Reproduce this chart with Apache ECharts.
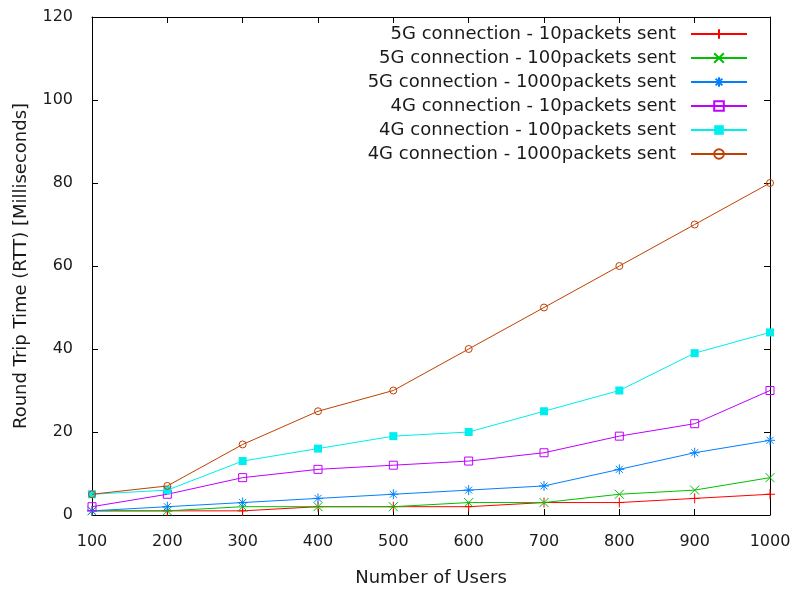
<!DOCTYPE html>
<html>
<head>
<meta charset="utf-8">
<script src="https://cdn.jsdelivr.net/npm/echarts@6/dist/echarts.min.js"></script>
<style>html,body{margin:0;padding:0;background:#fff}#c{width:793px;height:590px}</style>
</head>
<body>
<div id="c"></div>
<script>
const users = [100, 200, 300, 400, 500, 600, 700, 800, 900, 1000];
const names = [
  '5G connection - 10packets sent',
  '5G connection - 100packets sent',
  '5G connection - 1000packets sent',
  '4G connection - 10packets sent',
  '4G connection - 100packets sent',
  '4G connection - 1000packets sent'
];
const g5_10   = [1, 1, 1, 2, 2, 2, 3, 3, 4, 5];
const g5_100  = [1, 1, 2, 2, 2, 3, 3, 5, 6, 9];
const g5_1000 = [1, 2, 3, 4, 5, 6, 7, 11, 15, 18];
const g4_10   = [2, 5, 9, 11, 12, 13, 15, 19, 22, 30];
const g4_100  = [5, 6, 13, 16, 19, 20, 25, 30, 39, 44];
const g4_1000 = [5, 7, 17, 25, 30, 40, 50, 60, 70, 80];
const xTicks = [100, 200, 300, 400, 500, 600, 700, 800, 900, 1000];
const yTicks = [0, 20, 40, 60, 80, 100, 120];

const values = [g5_10, g5_100, g5_1000, g4_10, g4_100, g4_1000];
const colors = ['#ff0000', '#00c000', '#0080ff', '#c000ff', '#00eeee', '#c04000'];
const symbols = [
  'path://M5,0L5,10M0,5L10,5',
  'path://M0,0L10,10M10,0L0,10',
  'path://M5,0L5,10M0,5L10,5M1.5,1.5L8.5,8.5M8.5,1.5L1.5,8.5',
  'rect', 'rect', 'circle'
];
const sizes = [10, 9, 10, 8, 8, 7];
const filled = [true, true, true, false, true, false];

const font = 'DejaVu Sans';
const txt = '#1a1a1a';

const series = values.map((v, i) => ({
  name: names[i],
  type: 'line',
  data: users.map((u, j) => [u, v[j]]),
  symbol: symbols[i],
  symbolSize: sizes[i],
  showAllSymbol: true,
  lineStyle: { color: colors[i], width: 1 },
  itemStyle: {
    color: filled[i] ? colors[i] : 'rgba(0,0,0,0)',
    borderColor: colors[i],
    borderWidth: (i === 4) ? 0 : 1
  },
  emphasis: { disabled: true },
  animation: false,
  z: 2 + i
}));

const chart = echarts.init(document.getElementById('c'));
chart.setOption({
  animation: false,
  backgroundColor: '#fff',
  grid: { left: 92, right: 23, top: 17, bottom: 75, containLabel: false, outerBoundsMode: 'none' },
  legend: {
    orient: 'vertical',
    align: 'right',
    right: 45,
    top: 25,
    padding: 0,
    itemWidth: 56,
    itemHeight: 12,
    itemGap: 6,
    selectedMode: false,
    data: names,
    textStyle: { fontFamily: font, fontSize: 18, color: txt, lineHeight: 18, padding: [0, 10, 0, 0] }
  },
  xAxis: [{
    type: 'value', min: xTicks[0], max: xTicks[xTicks.length - 1], interval: 100,
    name: 'Number of Users', nameLocation: 'middle', nameGap: 54,
    nameTextStyle: { fontFamily: font, fontSize: 18, color: txt },
    axisLine: { show: true, lineStyle: { color: '#000', width: 1 } },
    axisTick: { show: true, inside: true, length: 6, lineStyle: { color: '#000' } },
    axisLabel: { fontFamily: font, fontSize: 16, color: txt, margin: 19, formatter: v => String(v) },
    splitLine: { show: false }
  }, {
    type: 'value', position: 'top', min: xTicks[0], max: xTicks[xTicks.length - 1], interval: 100,
    axisLine: { show: true, onZero: false, lineStyle: { color: '#000', width: 1 } },
    axisTick: { show: true, inside: true, length: 6, lineStyle: { color: '#000' } },
    axisLabel: { show: false }, splitLine: { show: false }
  }],
  yAxis: [{
    type: 'value', min: yTicks[0], max: yTicks[yTicks.length - 1], interval: 20,
    name: 'Round Trip Time (RTT) [Milliseconds]', nameLocation: 'middle', nameGap: 62,
    nameTextStyle: { fontFamily: font, fontSize: 18, color: txt },
    axisLine: { show: true, lineStyle: { color: '#000', width: 1 } },
    axisTick: { show: true, inside: true, length: 6, lineStyle: { color: '#000' } },
    axisLabel: { fontFamily: font, fontSize: 16, color: txt, margin: 19, formatter: v => String(v) },
    splitLine: { show: false }
  }, {
    type: 'value', position: 'right', min: yTicks[0], max: yTicks[yTicks.length - 1], interval: 20,
    axisLine: { show: true, onZero: false, lineStyle: { color: '#000', width: 1 } },
    axisTick: { show: true, inside: true, length: 6, lineStyle: { color: '#000' } },
    axisLabel: { show: false }, splitLine: { show: false }
  }],
  series: series
});
</script>
</body>
</html>
